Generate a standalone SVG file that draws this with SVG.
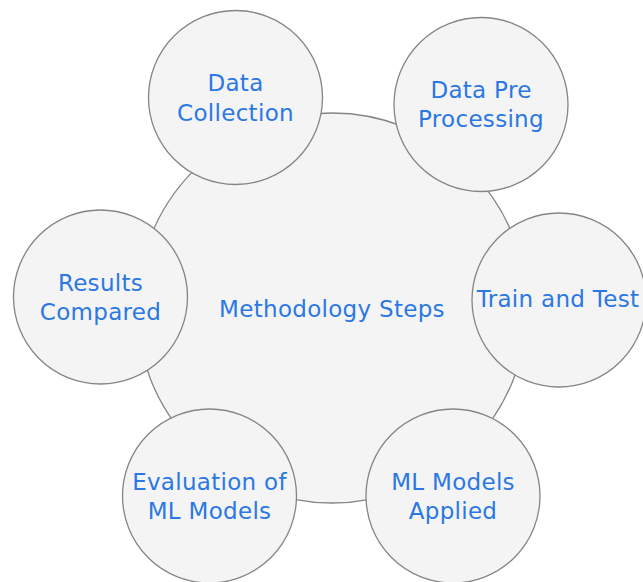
<svg xmlns="http://www.w3.org/2000/svg" width="643" height="582" viewBox="0 0 643 582">
<style>
circle{fill:#f4f4f4;stroke:#858585;stroke-width:1.3}
text{font-family:"DejaVu Sans",Verdana,sans-serif;font-size:23px;letter-spacing:0.3px;fill:#2b78e4;text-anchor:middle}
</style>
<rect width="643" height="582" fill="#ffffff"/>
<g id="connectors"></g>
<g id="center"><circle cx="332" cy="308" r="195"/><text x="332" y="317">Methodology Steps</text></g>
<g id="data-collection"><circle cx="235.5" cy="97.5" r="87"/><text x="235.5" y="91">Data</text><text x="235.5" y="121">Collection</text></g>
<g id="data-preprocessing"><circle cx="481" cy="104.5" r="87"/><text x="481" y="98">Data Pre</text><text x="481" y="127">Processing</text></g>
<g id="train-test"><circle cx="559" cy="300" r="87"/><text x="558" y="307">Train and Test</text></g>
<g id="ml-models-applied"><circle cx="453" cy="496" r="87"/><text x="453" y="490">ML Models</text><text x="453" y="519">Applied</text></g>
<g id="evaluation"><circle cx="209.5" cy="496" r="87"/><text x="209.5" y="490">Evaluation of</text><text x="209.5" y="519">ML Models</text></g>
<g id="results-compared"><circle cx="100.5" cy="297" r="87"/><text x="100.5" y="291">Results</text><text x="100.5" y="320">Compared</text></g>
</svg>
